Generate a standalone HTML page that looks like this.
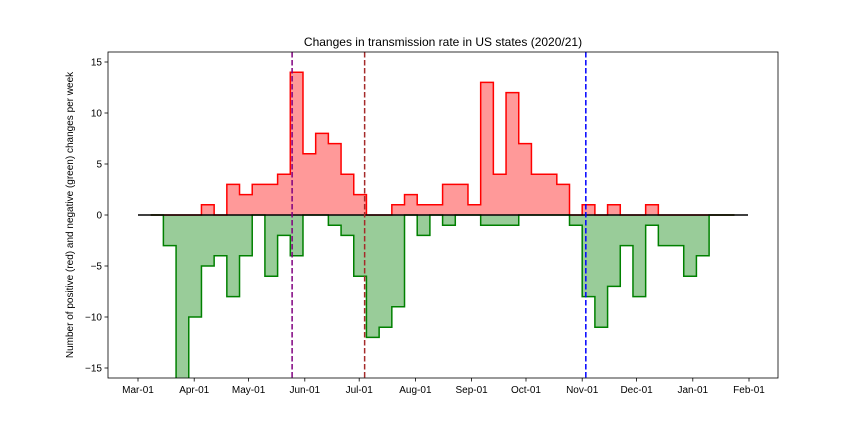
<!DOCTYPE html>
<html><head><meta charset="utf-8"><style>
html,body{margin:0;padding:0;background:#fff;}
svg{display:block;font-family:"Liberation Sans","DejaVu Sans",sans-serif;}
</style></head><body>
<svg id="chart" width="864" height="432" viewBox="0 0 864 432">
<rect x="0" y="0" width="864" height="432" fill="#fff"/>
<text x="443" y="46" font-size="12" text-anchor="middle" fill="#000">Changes in transmission rate in US states (2020/21)</text>
<text transform="translate(73,215) rotate(-90)" font-size="10" text-anchor="middle" fill="#000">Number of positive (red) and negative (green) changes per week</text>
<g id="plot"></g>
</svg>
<script>
// data
const positive = [0,0,0,0,1,0,3,2,3,3,4,14,6,8,7,4,2,0,0,1,2,1,1,3,3,1,13,4,12,7,4,4,3,0,1,0,1,0,0,1,0,0,0,0,0,0];
const negative = [0,-3,-17,-10,-5,-4,-8,-4,0,-6,-2,-4,0,0,-1,-2,-6,-12,-11,-9,0,-2,0,-1,0,0,-1,-1,-1,0,0,0,0,-1,-8,-11,-7,-3,-8,-1,-3,-3,-6,-4,0,0];
const yTicks = [-15,-10,-5,0,5,10,15];
const xTickLabels = ["Mar-01","Apr-01","May-01","Jun-01","Jul-01","Aug-01","Sep-01","Oct-01","Nov-01","Dec-01","Jan-01","Feb-01"];
const xTickDays = [0,31,61,92,122,153,184,214,245,275,306,337];
const eventDays = [85,125,247];
const eventColors = ["#800080","#a52a2a","#0000ff"];
const firstWeekDay = 7;

const L=108,R=778,T=52,B=378;
const xs = d => 138 + d*(749-138)/337;
const ys = v => 215 - v*10.2;
const NS="http://www.w3.org/2000/svg";
const g=document.getElementById('plot');
function mk(tag,attrs){const e=document.createElementNS(NS,tag);for(const k in attrs)e.setAttribute(k,attrs[k]);g.appendChild(e);return e;}

const clip=document.createElementNS(NS,'clipPath');clip.setAttribute('id','pc');
const cr=document.createElementNS(NS,'rect');cr.setAttribute('x',L);cr.setAttribute('y',T);cr.setAttribute('width',R-L);cr.setAttribute('height',B-T);
clip.appendChild(cr);g.appendChild(clip);

function stepPath(vals){
  let d='M'+xs(firstWeekDay)+','+ys(0);
  vals.forEach((v,i)=>{const x0=xs(firstWeekDay+7*i),x1=xs(firstWeekDay+7*(i+1));d+=' L'+x0+','+ys(v)+' L'+x1+','+ys(v);});
  d+=' L'+xs(firstWeekDay+7*vals.length)+','+ys(0);
  return d;
}
const pf=mk('path',{d:stepPath(positive)+' Z',fill:'#ff9999',stroke:'none','clip-path':'url(#pc)'});


const nf=mk('path',{d:stepPath(negative)+' Z',fill:'#99cc99',stroke:'none','clip-path':'url(#pc)'});


const pl=mk('path',{d:stepPath(positive),fill:'none',stroke:'#ff0000','stroke-width':1.5,'clip-path':'url(#pc)'});


const nl=mk('path',{d:stepPath(negative),fill:'none',stroke:'#008000','stroke-width':1.5,'clip-path':'url(#pc)'});


const zl=mk('line',{x1:138,x2:748,y1:ys(0),y2:ys(0),stroke:'#000','stroke-width':1.5});



eventDays.forEach((d,i)=>{
  const l=mk('line',{x1:xs(d),x2:xs(d),y1:T,y2:B,stroke:eventColors[i],'stroke-width':1.5,'stroke-dasharray':'5.5,2.5'});
  
  
});

const fr=mk('rect',{x:L,y:T,width:R-L,height:B-T,fill:'none',stroke:'#000','stroke-width':0.8});



yTicks.forEach(v=>{
  const t=mk('line',{x1:L-3.5,x2:L,y1:ys(v),y2:ys(v),stroke:'#000','stroke-width':0.8});
  
  
  const lb=mk('text',{x:L-6,y:ys(v)+3.5,'font-size':10,'text-anchor':'end',fill:'#000'});
  lb.textContent=(v<0?'\u2212'+(-v):String(v));
  
  
});
xTickLabels.forEach((s,i)=>{
  const x=xs(xTickDays[i]);
  const t=mk('line',{x1:x,x2:x,y1:B,y2:B+3.5,stroke:'#000','stroke-width':0.8});
  
  
  const lb=mk('text',{x:x,y:B+15,'font-size':10,'text-anchor':'middle',fill:'#000'});
  lb.textContent=s;
  
  
});
</script>
</body></html>
